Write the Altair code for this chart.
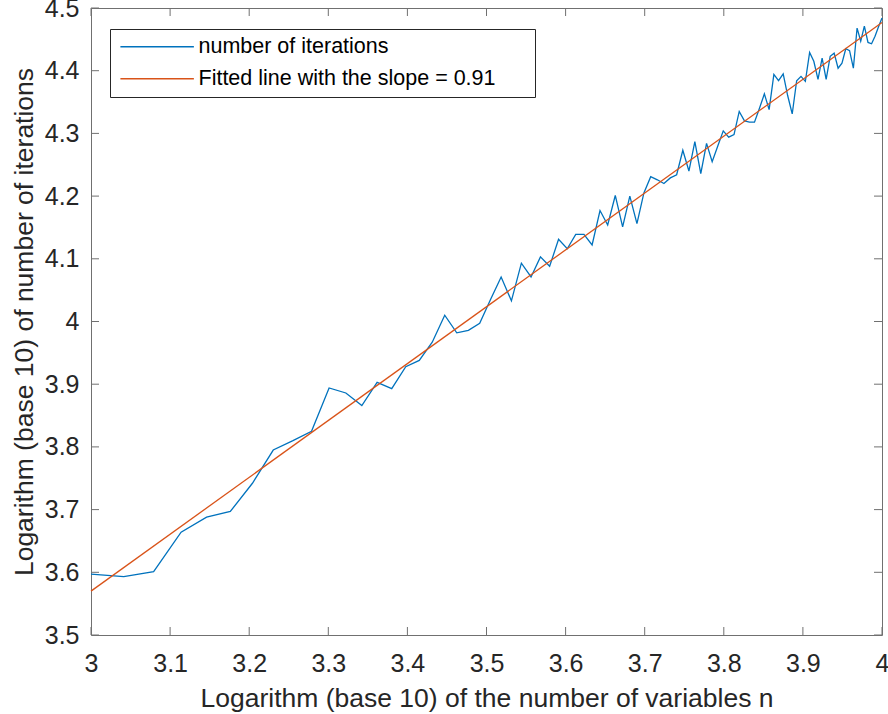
import altair as alt
import pandas as pd

# x: log10(n) for n = 1000, 1100, ..., 10000
log_n = [3.0000, 3.0414, 3.0792, 3.1139, 3.1461, 3.1761, 3.2041, 3.2304, 3.2553, 3.2788,
         3.3010, 3.3222, 3.3424, 3.3617, 3.3802, 3.3979, 3.4150, 3.4314, 3.4472, 3.4624,
         3.4771, 3.4914, 3.5051, 3.5185, 3.5315, 3.5441, 3.5563, 3.5682, 3.5798, 3.5911,
         3.6021, 3.6128, 3.6232, 3.6335, 3.6435, 3.6532, 3.6628, 3.6721, 3.6812, 3.6902,
         3.6990, 3.7076, 3.7160, 3.7243, 3.7324, 3.7404, 3.7482, 3.7559, 3.7634, 3.7709,
         3.7782, 3.7853, 3.7924, 3.7993, 3.8062, 3.8129, 3.8195, 3.8261, 3.8325, 3.8388,
         3.8451, 3.8513, 3.8573, 3.8633, 3.8692, 3.8751, 3.8808, 3.8865, 3.8921, 3.8976,
         3.9031, 3.9085, 3.9138, 3.9191, 3.9243, 3.9294, 3.9345, 3.9395, 3.9445, 3.9494,
         3.9542, 3.9590, 3.9638, 3.9685, 3.9731, 3.9777, 3.9823, 3.9868, 3.9912, 3.9956,
         4.0000]

log_iter = [3.597, 3.593, 3.601, 3.664, 3.688, 3.697, 3.742, 3.795, 3.810, 3.825,
            3.894, 3.886, 3.866, 3.903, 3.893, 3.928, 3.938, 3.967, 4.010, 3.982,
            3.986, 3.997, 4.035, 4.071, 4.033, 4.093, 4.071, 4.103, 4.088, 4.131,
            4.116, 4.139, 4.139, 4.122, 4.177, 4.154, 4.201, 4.151, 4.200, 4.156,
            4.205, 4.231, 4.226, 4.220, 4.229, 4.234, 4.273, 4.240, 4.287, 4.236,
            4.284, 4.255, 4.280, 4.304, 4.294, 4.298, 4.335, 4.320, 4.318, 4.318,
            4.340, 4.363, 4.338, 4.394, 4.384, 4.395, 4.360, 4.331, 4.384, 4.391,
            4.383, 4.429, 4.415, 4.386, 4.420, 4.386, 4.423, 4.428, 4.404, 4.412,
            4.435, 4.432, 4.404, 4.468, 4.447, 4.471, 4.445, 4.443, 4.455, 4.470,
            4.484]

fit_x = [3.0, 4.0]
fit_y = [3.570, 4.477]

series_names = ["number of iterations", "Fitted line with the slope = 0.91"]
series_colors = ["#0072BD", "#D95319"]

x_ticks = [3.0, 3.1, 3.2, 3.3, 3.4, 3.5, 3.6, 3.7, 3.8, 3.9, 4.0]
y_ticks = [3.5, 3.6, 3.7, 3.8, 3.9, 4.0, 4.1, 4.2, 4.3, 4.4, 4.5]

x_title = "Logarithm (base 10) of the number of variables n"
y_title = "Logarithm (base 10) of number of iterations"

W, H = 791, 627
TICK = 8
FONT = "Liberation Sans"
TXT = "#262626"
FRAME = "#707070"

lines_df = pd.concat([
    pd.DataFrame({"x": log_n, "y": log_iter, "series": series_names[0], "order": 0}),
    pd.DataFrame({"x": fit_x, "y": fit_y, "series": series_names[1], "order": 1}),
], ignore_index=True)

xscale = alt.Scale(domain=[3, 4], nice=False, zero=False)
yscale = alt.Scale(domain=[3.5, 4.5], nice=False, zero=False)

xaxis = alt.Axis(values=x_ticks, format="~g", title=x_title, domain=False, ticks=False,
                 tickSize=0, grid=False, labelFontSize=25, labelPadding=16,
                 labelFont=FONT, labelColor=TXT, labelFlush=False,
                 titleFont=FONT, titleFontSize=26.5, titleFontWeight="normal",
                 titleColor=TXT, titleBaseline="alphabetic", titleY=71)
yaxis = alt.Axis(values=y_ticks, format="~g", title=y_title, domain=False, ticks=False,
                 tickSize=0, grid=False, labelFontSize=25, labelPadding=12,
                 labelFont=FONT, labelColor=TXT, labelFlush=False,
                 titleFont=FONT, titleFontSize=26.5, titleFontWeight="normal",
                 titleColor=TXT, titleBaseline="alphabetic", titleX=-59)

lines = alt.Chart(lines_df).mark_line(strokeWidth=1.3).encode(
    x=alt.X("x:Q", scale=xscale, axis=xaxis),
    y=alt.Y("y:Q", scale=yscale, axis=yaxis),
    color=alt.Color("series:N",
                    scale=alt.Scale(domain=series_names, range=series_colors),
                    sort=series_names,
                    legend=alt.Legend(
                        title=None, orient="none", legendX=19, legendY=21,
                        direction="vertical",
                        strokeColor=TXT, fillColor="white", padding=7,
                        rowPadding=9, labelOffset=60, symbolSize=150,
                        symbolType="M-1.2,0H10.8", symbolStrokeWidth=1.3,
                        labelFont=FONT, labelFontSize=21.5, labelColor="#000000",
                        labelLimit=1000,
                        labelExpr="datum.label + '\u2003\u2002\u200b'")),
    order="order:Q",
)

xt_df = pd.DataFrame({"x": x_ticks})
yt_df = pd.DataFrame({"y": y_ticks})

tick_style = dict(color=FRAME, strokeWidth=1)

bottom_ticks = alt.Chart(xt_df).mark_rule(**tick_style).encode(
    x=alt.X("x:Q", scale=xscale, axis=xaxis),
    y=alt.value(H), y2=alt.value(H - TICK))
top_ticks = alt.Chart(xt_df).mark_rule(**tick_style).encode(
    x=alt.X("x:Q", scale=xscale, axis=xaxis),
    y=alt.value(0), y2=alt.value(TICK))
left_ticks = alt.Chart(yt_df).mark_rule(**tick_style).encode(
    y=alt.Y("y:Q", scale=yscale, axis=yaxis),
    x=alt.value(0), x2=alt.value(TICK))
right_ticks = alt.Chart(yt_df).mark_rule(**tick_style).encode(
    y=alt.Y("y:Q", scale=yscale, axis=yaxis),
    x=alt.value(W), x2=alt.value(W - TICK))

chart = alt.layer(bottom_ticks, top_ticks, left_ticks, right_ticks, lines).properties(
    width=W, height=H,
    autosize=alt.AutoSizeParams(type="none"),
    padding={"left": 91, "top": 8, "right": 6, "bottom": 79},
    background="white",
).configure_view(
    stroke=FRAME, strokeWidth=1
)

chart.save("out.html", embed_options={"renderer": "svg", "actions": False})
